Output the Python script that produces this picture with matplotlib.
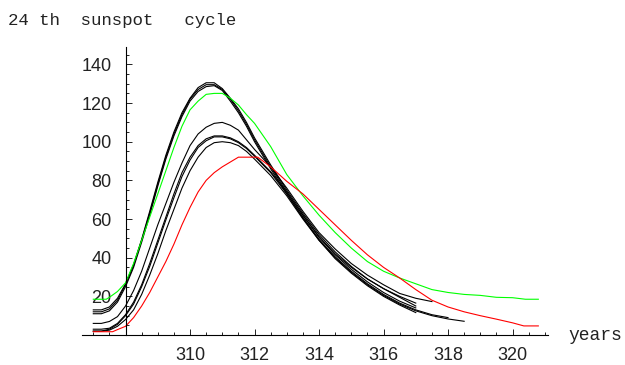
import matplotlib.pyplot as plt
from matplotlib.ticker import MultipleLocator, FixedLocator

# yearly grid shared by the black cycle curves
t_black = [307.0, 307.25, 307.5, 307.75, 308.0, 308.25, 308.5, 308.75, 309.0, 309.25,
           309.5, 309.75, 310.0, 310.25, 310.5, 310.75, 311.0, 311.25, 311.5, 311.75,
           312.0, 312.5, 313.0, 313.5, 314.0, 314.5, 315.0, 315.5, 316.0, 316.5,
           317.0, 317.5, 318.0, 318.5]

a1 = [13, 13, 14.5, 19, 26.5, 36.5, 49.5, 64, 79, 93, 105, 115, 122.5, 128, 130.5,
      130.5, 127.5, 122.5, 117, 110, 102, 88, 75, 63, 52, 43, 35.5, 29, 24, 20, 16.5]
a2 = [12, 12, 13.5, 18, 26, 36, 49, 63, 78, 92, 104, 114, 122, 127, 129.5,
      129.5, 127, 122, 116, 109, 101, 87, 74, 62, 50.5, 41.5, 34, 27.5, 22, 17.5, 14]
a3 = [11, 11, 12.5, 17, 25, 35, 48, 62, 77, 91, 103, 113, 121, 126, 128.5,
      129, 126.5, 121, 115, 108, 100, 86, 73, 60.5, 49, 39.5, 32, 25.5, 20, 15.5, 11.6]
b = [6, 6, 7, 9.5, 15, 23, 33, 45, 57, 68, 79, 89, 98, 104, 107.5,
     109.5, 110, 108.5, 106, 101, 96, 87, 76, 64, 53, 44.5, 37, 31, 26, 21.5, 19, 17.3]
c1 = [3, 3, 3.5, 6, 10.5, 17, 26, 37, 49, 61, 73, 84, 92, 98, 101.5,
      103, 103, 102, 100, 97, 93, 84.5, 74, 62, 51, 42, 35, 29, 24, 19.5, 15]
c2 = [2, 2, 3, 5.5, 10, 16, 25, 35.5, 47.5, 59.5, 71, 82, 90.5, 97, 100.5,
      102.5, 102.5, 101.5, 99.5, 96.5, 92.5, 84, 73, 61, 49.5, 40.5, 33, 26.5, 21, 16.5,
      13, 10.5, 9]
d = [2, 2, 2.5, 4.5, 8, 13, 21, 31, 42, 54, 65, 76, 85, 92, 97,
     99.5, 100, 99.5, 98, 95, 91, 82.5, 72, 60, 49, 40, 32.5, 26, 20.5, 16,
     12.5, 10, 8.3, 7.1]
black_curves = [a1, a2, a3, b, c1, c2, d]

# 24th cycle prediction curves
t_green = [307.0, 307.4, 307.5, 307.75, 308.0, 308.25, 308.5, 308.75, 309.0, 309.25,
           309.5, 309.75, 310.0, 310.25, 310.5, 310.75, 311.0, 311.25, 311.5, 311.75,
           312.0, 312.5, 313.0, 313.5, 314.0, 314.5, 315.0, 315.5, 316.0, 316.5,
           317.0, 317.5, 318.0, 318.5, 319.0, 319.5, 320.0, 320.4, 320.8]
green = [18.5, 18.5, 19.5, 22.5, 27, 37, 49, 61, 73, 85, 97, 108, 116.5, 121, 124.5,
         125, 125, 122.5, 119, 114, 109.5, 97.5, 83, 72, 62, 53, 45, 38, 33, 29.5,
         26.5, 23.5, 22, 21, 20.5, 19.5, 19.3, 18.5, 18.5]

t_red = [307.0, 307.6, 307.75, 308.0, 308.25, 308.5, 308.75, 309.0, 309.25, 309.5,
         309.75, 310.0, 310.25, 310.5, 310.75, 311.0, 311.25, 311.5, 312.1, 312.5,
         313.0, 313.5, 314.0, 314.5, 315.0, 315.5, 316.0, 316.5, 317.0, 317.5,
         318.0, 318.5, 319.0, 319.5, 320.0, 320.35, 320.8]
red = [1.7, 1.7, 2.8, 4.5, 9, 15, 22, 30, 38, 47, 57, 66, 74, 80, 84, 87, 89.5, 92, 92, 87,
       79.5, 73, 65, 57, 49, 41.5, 35, 29.5, 23.5, 18, 14.5, 12, 10, 8.2, 6.3, 4.7, 4.7]

x_ticks = [310, 312, 314, 316, 318, 320]
y_ticks = [20, 40, 60, 80, 100, 120, 140]

fig = plt.figure(figsize=(6.25, 3.65), dpi=100)
ax = fig.add_axes([82 / 625, 30 / 365, 466 / 625, 288 / 365])

for vals in black_curves:
    ax.plot(t_black[:len(vals)], vals, color='black', lw=0.8)
ax.plot(t_green, green, color='#00ff00', lw=0.8)
ax.plot(t_red, red, color='#ff0000', lw=0.8)

ax.set_xlim(306.65, 321.1)
ax.set_ylim(0, 149)

ax.spines['top'].set_visible(False)
ax.spines['right'].set_visible(False)
ax.spines['left'].set_position(('data', 308))
ax.spines['left'].set_linewidth(0.8)
ax.spines['bottom'].set_linewidth(0.8)

ax.xaxis.set_major_locator(FixedLocator(x_ticks))
ax.xaxis.set_minor_locator(MultipleLocator(0.5))
ax.yaxis.set_major_locator(FixedLocator(y_ticks))
ax.yaxis.set_minor_locator(MultipleLocator(5))
ax.tick_params(which='both', direction='in', width=0.6)
ax.tick_params(which='major', length=4)
ax.tick_params(which='minor', length=2)
ax.tick_params(axis='x', which='major', pad=9)
ax.tick_params(axis='y', which='major', pad=10)
for lab in ax.get_xticklabels() + ax.get_yticklabels():
    lab.set_fontfamily('Liberation Sans')
    lab.set_fontsize(13)
    lab.set_color('#222222')

fig.text(8 / 625, 1 - 20 / 365, "24 th  sunspot   cycle", family='Liberation Mono',
         fontsize=12.5, va='center', ha='left', color='#222222')
fig.text(568 / 625, 1 - 335 / 365, "years", family='Liberation Mono',
         fontsize=13, va='center', ha='left', color='#222222')

fig.savefig('out.png', dpi=100)
